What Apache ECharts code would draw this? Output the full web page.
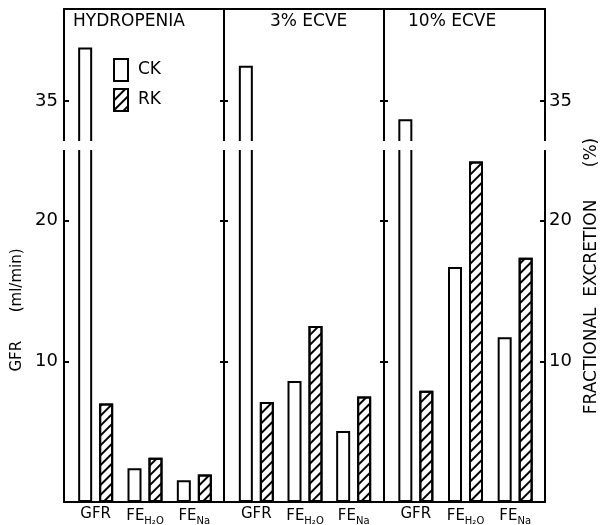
<!DOCTYPE html>
<html><head><meta charset="utf-8">
<script src="https://cdn.jsdelivr.net/npm/echarts@6/dist/echarts.min.js"></script>
<style>html,body{margin:0;padding:0;background:#fff}#c{width:601px;height:525px}</style>
</head><body><div id="c"></div>
<script>
// ---- data ----
const panelTitles = ['HYDROPENIA', '3% ECVE', '10% ECVE'];
const categories = ['GFR', 'FE_H2O', 'FE_Na'];
const seriesNames = ['CK', 'RK'];
const ckHydropenia = [38.8, 2.4, 1.55];
const rkHydropenia = [7.0, 3.15, 1.95];
const ckEcve3 = [37.5, 8.6, 5.05];
const rkEcve3 = [7.1, 12.5, 7.5];
const ckEcve10 = [33.7, 16.7, 11.7];
const rkEcve10 = [7.9, 24.2, 17.35];
const upperTicks = [35];
const lowerTicks = [10, 20];
const leftAxisName = 'GFR      (ml/min)';
const rightAxisName = 'FRACTIONAL  EXCRETION      (%)';

// ---- layout ----
const FONT = 'DejaVu Sans';
const panelData = [[ckHydropenia, rkHydropenia], [ckEcve3, rkEcve3], [ckEcve10, rkEcve10]];
const panelEdges = [64, 224, 384, 545];
const barGrids = [{left: 71, width: 148}, {left: 232, width: 146}, {left: 391, width: 149}];
const parts = [
  {top: 9, height: 136, min: 31.87, max: 41.54, ticks: upperTicks},
  {top: 146, height: 356, min: 0, max: 25.3, ticks: lowerTicks}
];
const titleLeft = [73, 270, 408];

const grid = [], xAxis = [], yAxis = [], series = [];
const lineStyle = {color: '#000', width: 2};

// frame grids
parts.forEach((pt, k) => {
  const gi = grid.length;
  grid.push({left: panelEdges[0], width: panelEdges[3] - panelEdges[0], top: pt.top, height: pt.height,
    containLabel: false, outerBoundsMode: 'none'});
  xAxis.push({type: 'value', gridIndex: gi, min: 0, max: 1, position: k === 0 ? 'top' : 'bottom',
    axisLine: {show: true, lineStyle}, axisTick: {show: false}, axisLabel: {show: false}, splitLine: {show: false}});
  ['left', 'right'].forEach(pos => {
    const ax = {type: 'value', gridIndex: gi, position: pos, min: pt.min, max: pt.max,
      axisLine: {show: true, lineStyle},
      axisTick: {show: true, inside: true, length: 5, customValues: pt.ticks, lineStyle},
      axisLabel: {show: true, customValues: pt.ticks, fontSize: 18, fontFamily: FONT, color: '#000', margin: pos === 'left' ? 6 : 4},
      splitLine: {show: false}};
    if (k === 1) {
      ax.nameLocation = 'middle';
      if (pos === 'left') {
        ax.name = leftAxisName; ax.nameGap = 38;
        ax.nameTextStyle = {fontSize: 15, fontFamily: FONT, color: '#000', padding: [0, 0, 0, 28]};
      } else {
        ax.name = rightAxisName; ax.nameGap = 37;
        ax.nameTextStyle = {fontSize: 17, fontFamily: FONT, color: '#000', padding: [0, 0, 0, 96]};
      }
    }
    yAxis.push(ax);
  });
});

const labelFormatter = v => v === 'FE_H2O' ? '{m|FE}{s|H\u2082O}' : (v === 'FE_Na' ? '{m|FE}{s|Na}' : '{m|' + v + '}');

const hatch = {symbol: 'rect', symbolSize: 1, dashArrayX: [1, 0], dashArrayY: [2, 5], rotation: -Math.PI / 4, color: '#000'};
const styles = [
  {color: '#fff', borderColor: '#000', borderWidth: 2},
  {color: '#fff', borderColor: '#000', borderWidth: 2, decal: hatch}
];

panelData.forEach((pd, p) => {
  parts.forEach((pt, k) => {
    const gi = grid.length;
    const g = barGrids[p];
    grid.push({left: g.left, width: g.width, top: pt.top, height: pt.height,
      containLabel: false, outerBoundsMode: 'none'});
    const xi = xAxis.length;
    xAxis.push({type: 'category', gridIndex: gi, data: categories,
      axisLine: {show: false}, axisTick: {show: false},
      axisLabel: {show: k === 1, formatter: labelFormatter, margin: 5, interval: 0,
        rich: {m: {fontSize: 15, fontFamily: FONT, color: '#000'},
               s: {fontSize: 10, fontFamily: FONT, color: '#000', padding: [9, 0, 0, 0]}}}});
    const yi = yAxis.length;
    // left axis: divider line for panels 2 and 3
    yAxis.push({type: 'value', gridIndex: gi, position: 'left', min: pt.min, max: pt.max,
      offset: g.left - panelEdges[p], show: p > 0,
      axisLine: {show: true, lineStyle},
      axisTick: {show: true, inside: true, length: 4, customValues: pt.ticks, lineStyle},
      axisLabel: {show: false}, splitLine: {show: false}});
    // right axis: ticks on divider pointing back into the panel
    yAxis.push({type: 'value', gridIndex: gi, position: 'right', min: pt.min, max: pt.max,
      offset: panelEdges[p + 1] - (g.left + g.width), show: p < 2,
      axisLine: {show: false},
      axisTick: {show: true, inside: true, length: 4, customValues: pt.ticks, lineStyle},
      axisLabel: {show: false}, splitLine: {show: false}});
    pd.forEach((vals, s) => {
      series.push({type: 'bar', name: seriesNames[s], xAxisIndex: xi, yAxisIndex: yi,
        data: vals, barWidth: 14, barGap: '50%', clip: true, itemStyle: styles[s], silent: true});
    });
  });
});

const option = {
  animation: false,
  backgroundColor: '#fff',
  title: panelTitles.map((t, i) => ({text: t, left: titleLeft[i], top: 13, padding: 0,
    textStyle: {fontSize: 17, fontWeight: 'normal', fontFamily: FONT, color: '#000'}})),
  legend: {data: seriesNames, orient: 'vertical', left: 113, top: 58, padding: 0,
    itemWidth: 14, itemHeight: 22, itemGap: 6, icon: 'rect',
    itemStyle: {borderColor: '#000', borderWidth: 2},
    textStyle: {fontSize: 17, fontFamily: FONT, color: '#000', padding: [0, 0, 0, 5]}},
  grid, xAxis, yAxis, series,
  graphic: [{type: 'rect', z: 100, shape: {x: 40, y: 141, width: 530, height: 9}, style: {fill: '#fff'}}]
};
const chart = echarts.init(document.getElementById('c'), null, {renderer: 'canvas'});
chart.setOption(option);
</script></body></html>
